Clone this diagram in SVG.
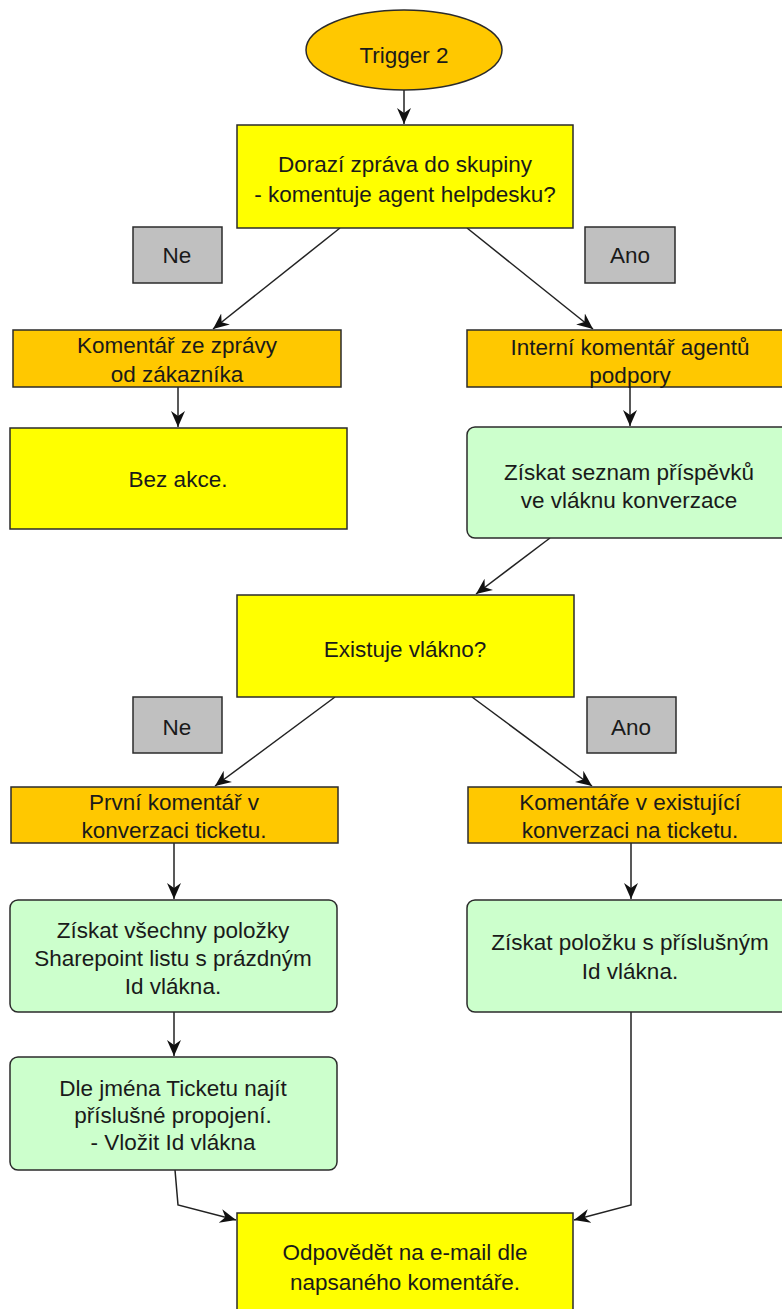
<svg xmlns="http://www.w3.org/2000/svg" width="782" height="1309" viewBox="0 0 782 1309">
  <style>
    .box { stroke: #2b2b2b; stroke-width: 1.5; }
    .yellow { fill: #ffff00; }
    .orange { fill: #ffc800; }
    .grey { fill: #c0c0c0; }
    .green { fill: #ccffcc; }
    text { font-family: "Liberation Sans", Arial, sans-serif; font-size: 22.5px; fill: #1a1a1a; text-anchor: middle; }
    .edge { fill: none; stroke: #222; stroke-width: 1.5; marker-end: url(#arrow); }
  </style>
  <defs>
    <marker id="arrow" markerUnits="userSpaceOnUse" markerWidth="18" markerHeight="18" refX="16" refY="8" orient="auto">
      <path d="M0,1 L16,8 L0,15 L5,8 Z" fill="#111"/>
    </marker>
  </defs>
  <rect width="782" height="1309" fill="#ffffff"/>

  <g id="connectors">
    <line class="edge" x1="404" y1="90" x2="404" y2="124"/>
    <line class="edge" x1="340" y1="228" x2="213" y2="329"/>
    <line class="edge" x1="467" y1="228" x2="593" y2="329"/>
    <line class="edge" x1="178" y1="387" x2="178" y2="427"/>
    <line class="edge" x1="630" y1="387" x2="630" y2="426"/>
    <line class="edge" x1="550" y1="538" x2="476" y2="594"/>
    <line class="edge" x1="335" y1="697" x2="215" y2="786"/>
    <line class="edge" x1="472" y1="697" x2="592" y2="786"/>
    <line class="edge" x1="174" y1="843" x2="174" y2="899"/>
    <line class="edge" x1="631" y1="843" x2="631" y2="899"/>
    <line class="edge" x1="174" y1="1012" x2="174" y2="1056"/>
    <polyline class="edge" points="175,1170 178,1205 236,1220"/>
    <polyline class="edge" points="631,1012 631,1205 574,1220"/>
  </g>

  <g id="trigger">
    <ellipse class="box orange" cx="404" cy="50" rx="98" ry="40"/>
    <text x="404" y="63">Trigger 2</text>
  </g>

  <g id="decision-agent">
    <rect class="box yellow" x="237" y="125" width="336" height="103"/>
    <text x="405" y="172">Dorazí zpráva do skupiny</text>
    <text x="405" y="202">- komentuje agent helpdesku?</text>
  </g>

  <g id="label-ne-1">
    <rect class="box grey" x="133" y="227" width="89" height="56"/>
    <text x="177" y="263">Ne</text>
  </g>

  <g id="label-ano-1">
    <rect class="box grey" x="585" y="227" width="90" height="56"/>
    <text x="630" y="263">Ano</text>
  </g>

  <g id="customer-comment">
    <rect class="box orange" x="13" y="330" width="328" height="57"/>
    <text x="177" y="353">Komentář ze zprávy</text>
    <text x="177" y="382">od zákazníka</text>
  </g>

  <g id="no-action">
    <rect class="box yellow" x="10" y="428" width="337" height="101"/>
    <text x="178" y="487">Bez akce.</text>
  </g>

  <g id="agent-comment">
    <rect class="box orange" x="467" y="330" width="328" height="57"/>
    <text x="630" y="355">Interní komentář agentů</text>
    <text x="630" y="383">podpory</text>
  </g>

  <g id="get-thread-posts">
    <rect class="box green" x="467" y="427" width="328" height="111" rx="8"/>
    <text x="629" y="480">Získat seznam příspěvků</text>
    <text x="629" y="508">ve vláknu konverzace</text>
  </g>

  <g id="decision-thread">
    <rect class="box yellow" x="237" y="595" width="337" height="102"/>
    <text x="405" y="657">Existuje vlákno?</text>
  </g>

  <g id="label-ne-2">
    <rect class="box grey" x="133" y="697" width="89" height="56"/>
    <text x="177" y="735">Ne</text>
  </g>

  <g id="label-ano-2">
    <rect class="box grey" x="587" y="697" width="89" height="56"/>
    <text x="631" y="735">Ano</text>
  </g>

  <g id="first-comment">
    <rect class="box orange" x="11" y="787" width="327" height="56"/>
    <text x="174" y="810">První komentář v</text>
    <text x="174" y="838">konverzaci ticketu.</text>
  </g>

  <g id="existing-comment">
    <rect class="box orange" x="468" y="787" width="327" height="56"/>
    <text x="630" y="810">Komentáře v existující</text>
    <text x="630" y="838">konverzaci na ticketu.</text>
  </g>

  <g id="get-empty-items">
    <rect class="box green" x="10" y="900" width="327" height="112" rx="8"/>
    <text x="173" y="938">Získat všechny položky</text>
    <text x="173" y="966">Sharepoint listu s prázdným</text>
    <text x="173" y="994">Id vlákna.</text>
  </g>

  <g id="match-ticket">
    <rect class="box green" x="10" y="1057" width="327" height="113" rx="8"/>
    <text x="173" y="1096">Dle jména Ticketu najít</text>
    <text x="173" y="1123">příslušné propojení.</text>
    <text x="173" y="1150">- Vložit Id vlákna</text>
  </g>

  <g id="get-thread-item">
    <rect class="box green" x="467" y="900" width="328" height="112" rx="8"/>
    <text x="630" y="950">Získat položku s příslušným</text>
    <text x="630" y="979">Id vlákna.</text>
  </g>

  <g id="reply-email">
    <rect class="box yellow" x="237" y="1213" width="336" height="104"/>
    <text x="405" y="1260">Odpovědět na e-mail dle</text>
    <text x="405" y="1290">napsaného komentáře.</text>
  </g>
</svg>
